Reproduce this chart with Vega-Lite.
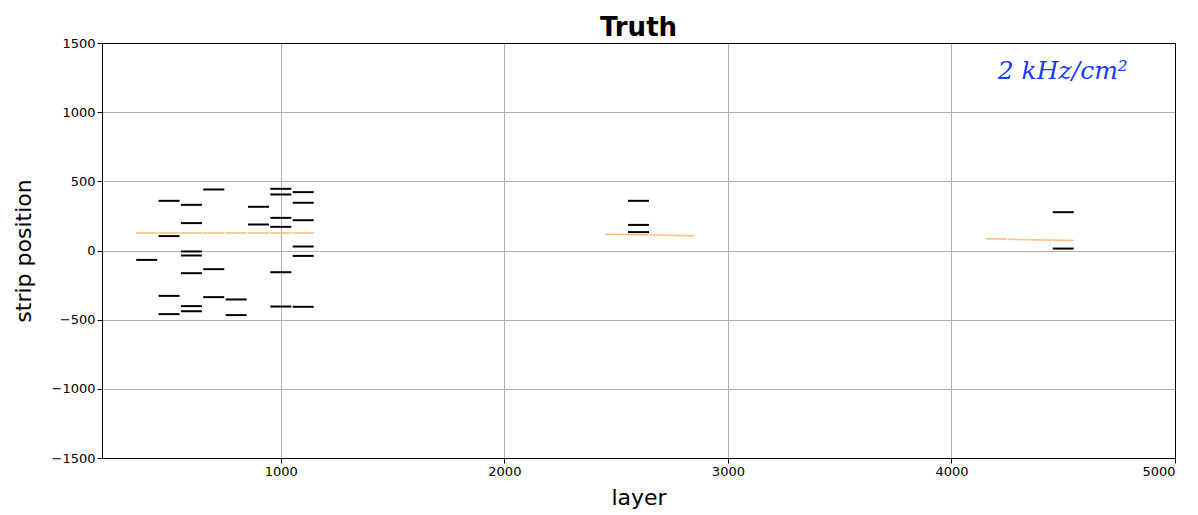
{
  "$schema": "https://vega.github.io/schema/vega-lite/v6.json",
  "width": 1073,
  "height": 415,
  "autosize": {"type": "none"},
  "padding": {"left": 102, "top": 43, "right": 23, "bottom": 57},
  "background": "white",
  "title": {
    "text": "Truth",
    "fontSize": 26,
    "fontWeight": "bold",
    "font": "DejaVu Sans",
    "color": "black",
    "anchor": "middle",
    "offset": -4
  },
  "config": {
    "view": {"stroke": "black", "strokeWidth": 1},
    "axis": {
      "labelFont": "DejaVu Sans",
      "labelFontSize": 13,
      "labelColor": "black",
      "titleFont": "DejaVu Sans",
      "titleFontSize": 22,
      "titleFontWeight": "normal",
      "titleColor": "black",
      "domainColor": "black",
      "tickColor": "black",
      "tickSize": 5,
      "gridColor": "#b0b0b0",
      "gridWidth": 1
    }
  },
  "resolve": {"axis": {"x": "independent", "y": "independent"}},
  "datasets": {
    "hits": [
      {"layer": 400, "pos": -68},
      {"layer": 500, "pos": 359}, {"layer": 500, "pos": 104}, {"layer": 500, "pos": -328}, {"layer": 500, "pos": -460},
      {"layer": 600, "pos": 330}, {"layer": 600, "pos": 198}, {"layer": 600, "pos": -7}, {"layer": 600, "pos": -36},
      {"layer": 600, "pos": -164}, {"layer": 600, "pos": -402}, {"layer": 600, "pos": -439},
      {"layer": 700, "pos": 441}, {"layer": 700, "pos": -135}, {"layer": 700, "pos": -337},
      {"layer": 800, "pos": -354}, {"layer": 800, "pos": -467},
      {"layer": 900, "pos": 316}, {"layer": 900, "pos": 188},
      {"layer": 1000, "pos": 446}, {"layer": 1000, "pos": 405}, {"layer": 1000, "pos": 236}, {"layer": 1000, "pos": 171},
      {"layer": 1000, "pos": -157}, {"layer": 1000, "pos": -405},
      {"layer": 1100, "pos": 422}, {"layer": 1100, "pos": 345}, {"layer": 1100, "pos": 219}, {"layer": 1100, "pos": 29},
      {"layer": 1100, "pos": -39}, {"layer": 1100, "pos": -407},
      {"layer": 2600, "pos": 359}, {"layer": 2600, "pos": 185}, {"layer": 2600, "pos": 133},
      {"layer": 4500, "pos": 277}, {"layer": 4500, "pos": 14}
    ],
    "tracks": [
      {"track": 1, "from": 352, "to": 448, "start": 127, "end": 127},
      {"track": 1, "from": 452, "to": 548, "start": 127, "end": 127},
      {"track": 1, "from": 552, "to": 648, "start": 127, "end": 127},
      {"track": 1, "from": 652, "to": 748, "start": 127, "end": 127},
      {"track": 1, "from": 752, "to": 848, "start": 127, "end": 127},
      {"track": 1, "from": 852, "to": 948, "start": 127, "end": 127},
      {"track": 1, "from": 952, "to": 1048, "start": 127, "end": 127},
      {"track": 1, "from": 1052, "to": 1148, "start": 127, "end": 127},
      {"track": 2, "from": 2452, "to": 2548, "start": 118, "end": 116},
      {"track": 2, "from": 2552, "to": 2648, "start": 115, "end": 113},
      {"track": 2, "from": 2652, "to": 2748, "start": 112, "end": 110},
      {"track": 2, "from": 2752, "to": 2848, "start": 109, "end": 107},
      {"track": 3, "from": 4152, "to": 4248, "start": 85, "end": 82},
      {"track": 3, "from": 4252, "to": 4348, "start": 81, "end": 78},
      {"track": 3, "from": 4352, "to": 4448, "start": 78, "end": 75},
      {"track": 3, "from": 4452, "to": 4548, "start": 75, "end": 72}
    ],
    "note": [
      {"layer": 4207, "pos": 1239, "label": "2 kHz/cm²"}
    ]
  },
  "layer": [
    {
      "data": {"name": "tracks"},
      "mark": {"type": "rule", "color": "#ffbf80", "strokeWidth": 1.6},
      "encoding": {
        "x": {
          "field": "from", "type": "quantitative",
          "scale": {"domain": [200, 5000], "nice": false, "zero": false},
          "axis": {"title": "layer", "values": [1000, 2000, 3000, 4000, 5000], "format": "d", "titlePadding": 9}
        },
        "x2": {"field": "to"},
        "y": {
          "field": "start", "type": "quantitative",
          "scale": {"domain": [-1500, 1500], "nice": false, "zero": false},
          "axis": {"title": "strip position", "values": [-1500, -1000, -500, 0, 500, 1000, 1500], "format": "d", "titlePadding": 16}
        },
        "y2": {"field": "end"}
      }
    },
    {
      "data": {"name": "hits"},
      "mark": {"type": "tick", "orient": "horizontal", "color": "black", "size": 21, "thickness": 2, "opacity": 1},
      "encoding": {
        "x": {
          "field": "layer", "type": "quantitative",
          "axis": {"orient": "top", "title": null, "labels": false, "ticks": false, "grid": false, "domainColor": "black"}
        },
        "y": {
          "field": "pos", "type": "quantitative",
          "axis": {"orient": "right", "title": null, "labels": false, "ticks": false, "grid": false, "domainColor": "black"}
        }
      }
    },
    {
      "data": {"name": "note"},
      "mark": {
        "type": "text", "align": "left", "baseline": "alphabetic",
        "font": "DejaVu Serif", "fontStyle": "italic", "fontSize": 25, "color": "#1a3cff"
      },
      "encoding": {
        "x": {"field": "layer", "type": "quantitative", "axis": null},
        "y": {"field": "pos", "type": "quantitative", "axis": null},
        "text": {"field": "label"}
      }
    }
  ]
}
